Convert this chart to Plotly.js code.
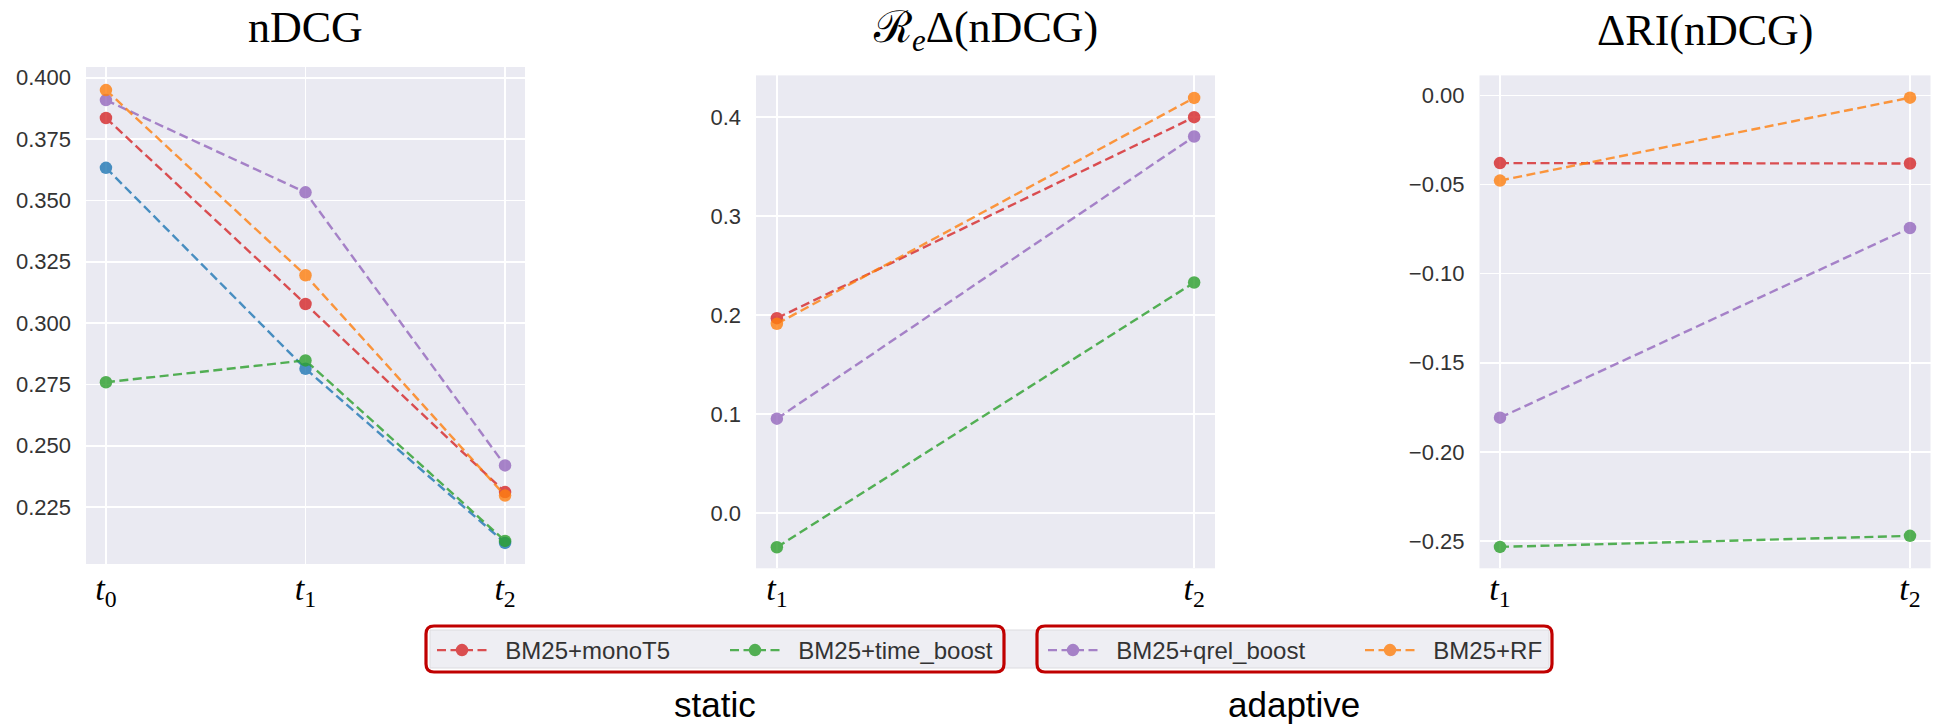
<!DOCTYPE html>
<html><head><meta charset="utf-8">
<script src="https://cdn.plot.ly/plotly-3.0.1.min.js"></script>
<style>html,body{margin:0;padding:0;background:#fff}#chart{width:1936px;height:727px}</style>
</head><body><div id="chart"></div>
<script>
// ---- data ----
const ndcgX = [0, 1, 2];
const ndcgTicks = ['<i>t</i><sub>0</sub>', '<i>t</i><sub>1</sub>', '<i>t</i><sub>2</sub>'];
const deltaX = [1, 2];
const deltaTicks = ['<i>t</i><sub>1</sub>', '<i>t</i><sub>2</sub>'];

const seriesNames = ['BM25', 'BM25+monoT5', 'BM25+time_boost', 'BM25+qrel_boost', 'BM25+RF'];

const ndcgBM25 = [0.3633, 0.2814, 0.2104];
const ndcgMonoT5 = [0.3836, 0.3078, 0.2311];
const ndcgTimeBoost = [0.2759, 0.2848, 0.2112];
const ndcgQrelBoost = [0.3909, 0.3533, 0.2420];
const ndcgRF = [0.3950, 0.3195, 0.2297];

const reMonoT5 = [0.197, 0.400];
const reTimeBoost = [-0.0343, 0.233];
const reQrelBoost = [0.0955, 0.3805];
const reRF = [0.1913, 0.4195];

const riMonoT5 = [-0.0380, -0.0382];
const riTimeBoost = [-0.2533, -0.2471];
const riQrelBoost = [-0.1808, -0.0744];
const riRF = [-0.0478, -0.0013];

const titles = ['nDCG', 'ℛ<sub><i>e</i></sub>Δ(nDCG)', 'ΔRI(nDCG)'];
const groupLabels = ['static', 'adaptive'];

// ---- styles ----
const colors = {
  'BM25': '#1f77b4', 'BM25+monoT5': '#d62728', 'BM25+time_boost': '#2ca02c',
  'BM25+qrel_boost': '#9467bd', 'BM25+RF': '#ff7f0e'
};
const legendOf = {'BM25+monoT5': 'legend', 'BM25+time_boost': 'legend', 'BM25+qrel_boost': 'legend2', 'BM25+RF': 'legend2'};
const LEG_PAD = '\u00a0\u00a0'; // small gap between legend symbol and label

const W = 1936, H = 727;
const px = v => v / W, py = v => 1 - v / H;

function tr(x, y, name, xa, ya, show) {
  return {
    x: x, y: y, type: 'scatter', mode: 'lines+markers', name: LEG_PAD + name,
    legendgroup: name, showlegend: show, legend: legendOf[name] || 'legend',
    xaxis: xa, yaxis: ya, opacity: 0.8, hoverinfo: 'skip',
    line: {color: colors[name], width: 2.4, dash: '9px,4.5px'},
    marker: {color: colors[name], size: 12.5}
  };
}

const data = [
  tr(ndcgX, ndcgBM25, seriesNames[0], 'x', 'y', false),
  tr(ndcgX, ndcgMonoT5, seriesNames[1], 'x', 'y', true),
  tr(ndcgX, ndcgTimeBoost, seriesNames[2], 'x', 'y', true),
  tr(ndcgX, ndcgQrelBoost, seriesNames[3], 'x', 'y', true),
  tr(ndcgX, ndcgRF, seriesNames[4], 'x', 'y', true),
  tr(deltaX, reMonoT5, seriesNames[1], 'x2', 'y2', false),
  tr(deltaX, reTimeBoost, seriesNames[2], 'x2', 'y2', false),
  tr(deltaX, reQrelBoost, seriesNames[3], 'x2', 'y2', false),
  tr(deltaX, reRF, seriesNames[4], 'x2', 'y2', false),
  tr(deltaX, riMonoT5, seriesNames[1], 'x3', 'y3', false),
  tr(deltaX, riTimeBoost, seriesNames[2], 'x3', 'y3', false),
  tr(deltaX, riQrelBoost, seriesNames[3], 'x3', 'y3', false),
  tr(deltaX, riRF, seriesNames[4], 'x3', 'y3', false)
];

const tickFontY = {family: 'Liberation Sans, Arial, sans-serif', size: 22, color: '#333333'};
const tickFontX = {family: 'Liberation Serif, Times New Roman, serif', size: 34, color: '#000000'};

function xax(dom, rng, vals, text) {
  return {domain: dom, range: rng, tickvals: vals, ticktext: text, showgrid: true, gridcolor: '#ffffff',
    gridwidth: 1.6, zeroline: false, showline: false, ticks: '', tickfont: tickFontX,
    ticklabelstandoff: 1, automargin: false, fixedrange: true};
}
function yax(dom, rng, t0, dt, fmt, anchor) {
  return {domain: dom, range: rng, tick0: t0, dtick: dt, tickformat: fmt, showgrid: true,
    gridcolor: '#ffffff', gridwidth: 1.6, zeroline: false, showline: false, ticks: '',
    tickfont: tickFontY, ticklabelstandoff: 14, automargin: false, fixedrange: true, anchor: anchor};
}

const p1 = [86, 525], p2 = [756, 1215], p3 = [1479.5, 1930.5];
const yA = [564, 67], yB = [568.3, 75.4];

function roundRect(x0, y0, x1, y1, r) {
  const P = (x, y) => px(x) + ',' + py(y);
  return 'M' + P(x0 + r, y0) + ' L' + P(x1 - r, y0) + ' Q' + P(x1, y0) + ' ' + P(x1, y0 + r) +
    ' L' + P(x1, y1 - r) + ' Q' + P(x1, y1) + ' ' + P(x1 - r, y1) +
    ' L' + P(x0 + r, y1) + ' Q' + P(x0, y1) + ' ' + P(x0, y1 - r) +
    ' L' + P(x0, y0 + r) + ' Q' + P(x0, y0) + ' ' + P(x0 + r, y0) + ' Z';
}

const legFont = {family: 'Liberation Sans, Arial, sans-serif', size: 24, color: '#333333'};

const layout = {
  width: W, height: H, margin: {l: 0, r: 0, t: 0, b: 0},
  paper_bgcolor: '#ffffff', plot_bgcolor: '#EAEAF2',
  xaxis: xax([px(p1[0]), px(p1[1])], [-0.1, 2.1], ndcgX, ndcgTicks),
  yaxis: yax([py(yA[0]), py(yA[1])], [0.2018, 0.4044], 0.225, 0.025, '.3f', 'x'),
  xaxis2: xax([px(p2[0]), px(p2[1])], [0.95, 2.05], deltaX, deltaTicks),
  yaxis2: yax([py(yB[0]), py(yB[1])], [-0.0556, 0.4422], 0, 0.1, '.1f', 'x2'),
  xaxis3: xax([px(p3[0]), px(p3[1])], [0.95, 2.05], deltaX, deltaTicks),
  yaxis3: yax([py(yB[0]), py(yB[1])], [-0.2653, 0.0112], 0, 0.05, '.2f', 'x3'),
  showlegend: true,
  legend: {x: px(432), y: py(628), xanchor: 'left', yanchor: 'top', orientation: 'h',
    bgcolor: 'rgba(0,0,0,0)', borderwidth: 0, font: legFont, entrywidth: 228, itemwidth: 50,
    itemclick: false, itemdoubleclick: false},
  legend2: {x: px(1043), y: py(628), xanchor: 'left', yanchor: 'top', orientation: 'h',
    bgcolor: 'rgba(0,0,0,0)', borderwidth: 0, font: legFont, entrywidth: 252, itemwidth: 50,
    itemclick: false, itemdoubleclick: false},
  shapes: [
    {type: 'rect', xref: 'paper', yref: 'paper', x0: px(430), x1: px(1549), y0: py(668), y1: py(630),
      fillcolor: '#EEEEF3', line: {color: '#DCDCE0', width: 1}, layer: 'below'},
    {type: 'path', xref: 'paper', yref: 'paper', path: roundRect(426, 626, 1004, 672, 8),
      line: {color: '#C00000', width: 3.2}, fillcolor: 'rgba(0,0,0,0)'},
    {type: 'path', xref: 'paper', yref: 'paper', path: roundRect(1037, 626, 1552, 672, 8),
      line: {color: '#C00000', width: 3.2}, fillcolor: 'rgba(0,0,0,0)'}
  ],
  annotations: [
    {text: titles[0], x: px((p1[0] + p1[1]) / 2), y: py(28), xref: 'paper', yref: 'paper', showarrow: false,
      xanchor: 'center', yanchor: 'middle', font: {family: 'Liberation Serif, serif', size: 44, color: '#000'}},
    {text: titles[1], x: px((p2[0] + p2[1]) / 2), y: py(30), xref: 'paper', yref: 'paper', showarrow: false,
      xanchor: 'center', yanchor: 'middle', font: {family: 'Liberation Serif, serif', size: 44, color: '#000'}},
    {text: titles[2], x: px((p3[0] + p3[1]) / 2), y: py(30), xref: 'paper', yref: 'paper', showarrow: false,
      xanchor: 'center', yanchor: 'middle', font: {family: 'Liberation Serif, serif', size: 44, color: '#000'}},
    {text: groupLabels[0], x: px(715), y: py(704), xref: 'paper', yref: 'paper', showarrow: false,
      xanchor: 'center', yanchor: 'middle', font: {family: 'Liberation Sans, Arial, sans-serif', size: 35, color: '#000'}},
    {text: groupLabels[1], x: px(1294), y: py(704), xref: 'paper', yref: 'paper', showarrow: false,
      xanchor: 'center', yanchor: 'middle', font: {family: 'Liberation Sans, Arial, sans-serif', size: 35, color: '#000'}}
  ]
};

Plotly.newPlot('chart', data, layout, {staticPlot: true, displayModeBar: false});
</script></body></html>
